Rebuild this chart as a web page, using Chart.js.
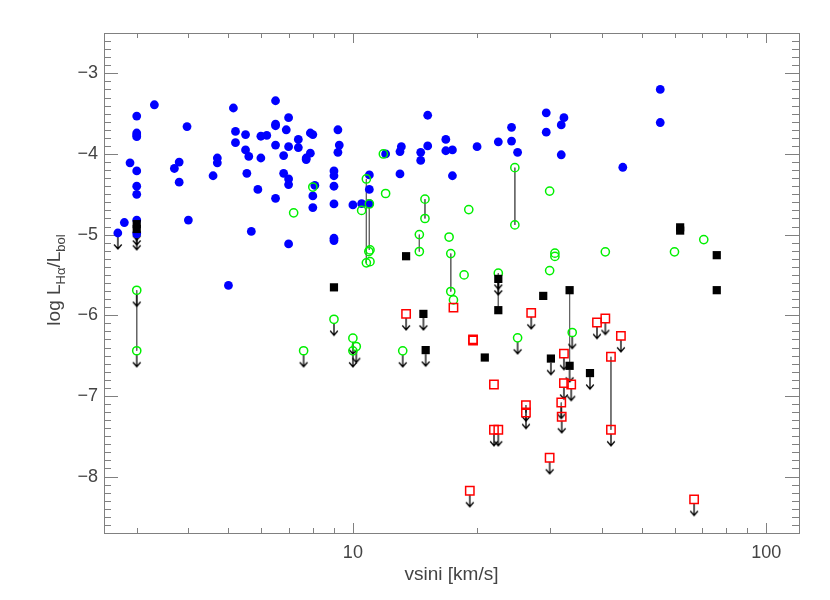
<!DOCTYPE html>
<html>
<head>
<meta charset="utf-8">
<script src="https://cdn.jsdelivr.net/npm/chart.js@4.4.1/dist/chart.umd.min.js"></script>
<style>
  body { margin: 0; background: #fff; }
  #wrap { width: 830px; height: 600px; }
</style>
</head>
<body>
<div id="wrap"><canvas id="chart" width="830" height="600"></canvas></div>
<script>
// vsini [km/s], log(LHa/Lbol)
const blueDet = [
  [3.31,-3.39],[3.0,-3.53],[3.0,-3.74],[3.0,-3.765],[3.0,-3.786],[3.97,-3.66],[2.89,-4.11],[3.0,-4.21],
  [3.0,-4.40],[3.0,-4.50],[3.70,-4.18],[3.80,-4.10],[3.80,-4.35],[4.70,-4.05],[4.70,-4.11],[4.59,-4.27],
  [5.14,-3.43],[5.20,-3.72],[5.20,-3.86],[5.50,-3.76],[5.50,-3.95],[5.60,-4.03],[5.54,-4.24],[5.99,-3.78],
  [6.19,-3.77],[5.99,-4.05],[5.89,-4.44],[6.50,-3.34],[6.50,-3.63],[6.50,-3.65],[6.50,-3.89],[6.50,-4.55],
  [6.99,-3.55],[6.90,-3.70],[6.99,-3.91],[6.80,-4.02],[6.80,-4.24],[6.99,-4.31],[6.99,-4.38],[7.38,-3.82],
  [7.38,-3.92],[7.71,-4.05],[7.71,-4.07],[7.89,-3.99],[7.89,-3.74],[8.0,-3.76],[8.09,-4.39],[8.0,-4.52],
  [9.0,-4.21],[9.0,-4.27],[9.0,-4.40],[9.2,-3.70],[9.27,-3.89],[9.2,-3.98],[2.80,-4.85],[4.0,-4.82],
  [5.0,-5.63],[5.68,-4.96],[6.99,-5.115],[8.0,-4.665],[9.0,-4.62],[9.0,-5.045],[9.0,-5.074],[15.17,-3.52],
  [13.1,-3.91],[13.0,-3.97],[14.59,-3.98],[14.59,-4.08],[15.17,-3.90],[16.78,-3.82],[16.78,-3.96],[17.41,-3.95],
  [17.41,-4.27],[19.97,-3.91],[22.48,-3.85],[24.2,-3.67],[24.2,-3.84],[25.03,-3.98],[29.36,-3.49],[29.36,-3.73],
  [32.4,-3.55],[31.92,-3.64],[31.92,-4.01],[12.0,-4.0],[13.0,-4.248],[10.96,-4.26],[10.96,-4.44],[10.0,-4.632],
  [10.5,-4.616],[10.96,-4.616],[55.4,-3.20],[55.4,-3.61],[44.97,-4.165]
];
const blueLim = [[2.70,-4.98],[3.0,-4.82],[3.0,-4.99]];

const greenDet = [
  [8.0,-4.41],[7.19,-4.73],[11.85,-4.0],[10.78,-4.31],[10.96,-4.62],[11.0,-5.19],[10.93,-5.21],[10.78,-5.35],
  [11.0,-5.335],[12.0,-4.49],[10.5,-4.70],[14.94,-4.56],[14.94,-4.80],[14.48,-5.00],[14.48,-5.21],[19.07,-4.69],
  [17.09,-5.03],[17.25,-5.235],[17.25,-5.706],[17.51,-5.81],[18.58,-5.50],[24.65,-4.17],[24.65,-4.88],[29.92,-4.46],
  [30.81,-5.23],[30.81,-5.27],[29.92,-5.446],[40.8,-5.214],[59.98,-5.214],[70.6,-5.062]
];
const greenLim = [
  [3.0,-5.69],[3.0,-6.44],[7.60,-6.44],[9.0,-6.05],[22.48,-5.478],[10.0,-6.284],[10.19,-6.388],[10.0,-6.441],
  [13.2,-6.441],[25.03,-6.28],[33.93,-6.214]
];

const blackDet = [
  [9.0,-5.654],[13.45,-5.268],[22.48,-5.937],[20.85,-6.524],[28.87,-5.76],[33.44,-5.689],[61.9,-4.91],[61.9,-4.95],
  [75.9,-5.255],[75.9,-5.689]
];
const blackLim = [
  [3.0,-4.87],[3.0,-4.93],[22.48,-5.549],[14.81,-5.983],[15.0,-6.432],[33.44,-6.627],[30.13,-6.537],[37.46,-6.717]
];

const redDet = [[17.51,-5.905],[21.94,-6.859],[42.1,-6.515],[19.53,-6.30],[19.53,-6.313]];
const redLim = [
  [13.45,-5.983],[27.0,-5.97],[32.4,-6.475],[26.22,-7.114],[26.22,-7.206],[21.94,-7.42],[22.48,-7.42],[29.92,-7.767],
  [19.18,-8.176],[31.92,-7.082],[32.0,-7.259],[32.4,-6.841],[33.74,-6.859],[38.95,-6.09],[40.8,-6.04],[44.5,-6.255],
  [42.1,-7.42],[66.9,-8.284]
];

// same star measured twice: vsini, first, second
const links = [
  [3.0,-5.69,-6.44],[10.78,-4.31,-5.35],[10.96,-4.62,-5.19],[14.94,-4.56,-4.80],[14.48,-5.00,-5.21],
  [17.25,-5.235,-5.706],[24.65,-4.17,-4.88],[22.48,-5.478,-5.937],[33.44,-5.689,-6.627],[26.22,-7.114,-7.206],
  [31.92,-7.082,-7.259],[42.1,-6.515,-7.42]
];

const xTicks = [10, 100];
const yTicks = [-8, -7, -6, -5, -4, -3];

const fam = "'Liberation Sans', Arial, sans-serif";
const textCol = '#444';
const toXY = arr => arr.map(p => ({ x: p[0], y: p[1] }));

// down arrow for upper limits
function makeArrow() {
  const c = document.createElement('canvas');
  c.width = 12; c.height = 44;
  const g = c.getContext('2d');
  g.strokeStyle = '#000';
  g.lineWidth = 1.3;
  g.beginPath();
  g.moveTo(6, 26); g.lineTo(6, 38);
  g.moveTo(2.2, 33.5); g.lineTo(6, 38); g.lineTo(9.8, 33.5);
  g.stroke();
  return c;
}

const linkData = [];
links.forEach(l => {
  linkData.push({ x: l[0], y: l[1] }, { x: l[0], y: l[2] }, { x: l[0], y: null });
});

const frame = {
  id: 'frame',
  beforeDatasetsDraw(chart) {
    const { ctx, chartArea: a, scales: { x, y } } = chart;
    ctx.save();
    ctx.strokeStyle = '#808080';
    ctx.lineWidth = 1;
    ctx.strokeRect(a.left + 0.5, a.top + 0.5, a.right - a.left, a.bottom - a.top);
    ctx.beginPath();
    for (let k = -87; k <= -25; k++) {
      const py = Math.round(y.getPixelForValue(k / 10)) + 0.5;
      const len = k % 10 === 0 ? 14 : 7;
      ctx.moveTo(a.left, py); ctx.lineTo(a.left + len, py);
      ctx.moveTo(a.right, py); ctx.lineTo(a.right - len, py);
    }
    [3, 4, 5, 6, 7, 8, 9, 10, 20, 30, 40, 50, 60, 70, 80, 90, 100].forEach(v => {
      const px = Math.round(x.getPixelForValue(v)) + 0.5;
      const len = (v === 10 || v === 100) ? 10 : 5;
      ctx.moveTo(px, a.bottom); ctx.lineTo(px, a.bottom - len);
      ctx.moveTo(px, a.top); ctx.lineTo(px, a.top + len);
    });
    ctx.stroke();
    ctx.restore();
  },
  afterDraw(chart) {
    const ctx = chart.ctx;
    const parts = [['log L', 19, 0], ['H\u03b1', 13, 5], ['/L', 19, 0], ['bol', 13, 5]];
    ctx.save();
    ctx.translate(60, 280);
    ctx.rotate(-Math.PI / 2);
    ctx.fillStyle = textCol;
    ctx.textBaseline = 'alphabetic';
    ctx.textAlign = 'left';
    let total = 0;
    parts.forEach(p => { ctx.font = p[1] + 'px ' + fam; total += ctx.measureText(p[0]).width; });
    let u = -total / 2;
    parts.forEach(p => {
      ctx.font = p[1] + 'px ' + fam;
      ctx.fillText(p[0], u, p[2]);
      u += ctx.measureText(p[0]).width;
    });
    ctx.restore();
  }
};

new Chart(document.getElementById('chart'), {
  type: 'scatter',
  data: {
    datasets: [
      { data: linkData, showLine: true, spanGaps: false, pointRadius: 0, borderColor: '#666', borderWidth: 1, order: 6 },
      { data: toXY(blueLim.concat(greenLim, blackLim, redLim)), pointStyle: makeArrow(), pointRadius: 3, order: 5 },
      { data: toXY(blueDet.concat(blueLim)), pointStyle: 'circle', pointRadius: 4.4, backgroundColor: '#0000ff', borderColor: '#0000ff', borderWidth: 0, order: 4 },
      { data: toXY(greenDet.concat(greenLim)), pointStyle: 'circle', pointRadius: 4.1, backgroundColor: 'rgba(0,0,0,0)', borderColor: '#00f000', borderWidth: 1.5, order: 3 },
      { data: toXY(blackDet.concat(blackLim)), pointStyle: 'rect', pointRadius: 5.8, backgroundColor: '#000', borderColor: '#000', borderWidth: 0, order: 2 },
      { data: toXY(redDet.concat(redLim)), pointStyle: 'rect', pointRadius: 5.9, backgroundColor: 'rgba(0,0,0,0)', borderColor: '#ff0000', borderWidth: 1.5, order: 1 }
    ]
  },
  options: {
    responsive: false,
    devicePixelRatio: 1,
    animation: false,
    events: [],
    layout: { padding: { top: 33, right: 31, bottom: 0, left: 0 } },
    plugins: { legend: { display: false }, tooltip: { enabled: false } },
    scales: {
      x: {
        type: 'logarithmic',
        min: 2.5,
        max: 120,
        bounds: 'data',
        grid: { display: false, drawTicks: false },
        border: { display: false },
        afterBuildTicks: s => { s.ticks = xTicks.map(v => ({ value: v })); },
        afterFit: s => { s.height = 67; },
        ticks: {
          color: textCol, font: { family: fam, size: 18 }, padding: 9,
          maxRotation: 0, autoSkip: false, callback: v => String(v)
        },
        title: {
          display: true, text: 'vsini [km/s]', color: textCol,
          font: { family: fam, size: 19 }, padding: { top: 0, bottom: 14 }
        }
      },
      y: {
        type: 'linear',
        min: -8.7,
        max: -2.5,
        bounds: 'data',
        grid: { display: false, drawTicks: false },
        border: { display: false },
        afterBuildTicks: s => { s.ticks = yTicks.map(v => ({ value: v })); },
        afterFit: s => { s.width = 104; },
        ticks: {
          color: textCol, font: { family: fam, size: 18 }, padding: 6,
          autoSkip: false, callback: v => '\u2212' + Math.abs(v)
        }
      }
    }
  },
  plugins: [frame]
});
</script>
</body>
</html>
